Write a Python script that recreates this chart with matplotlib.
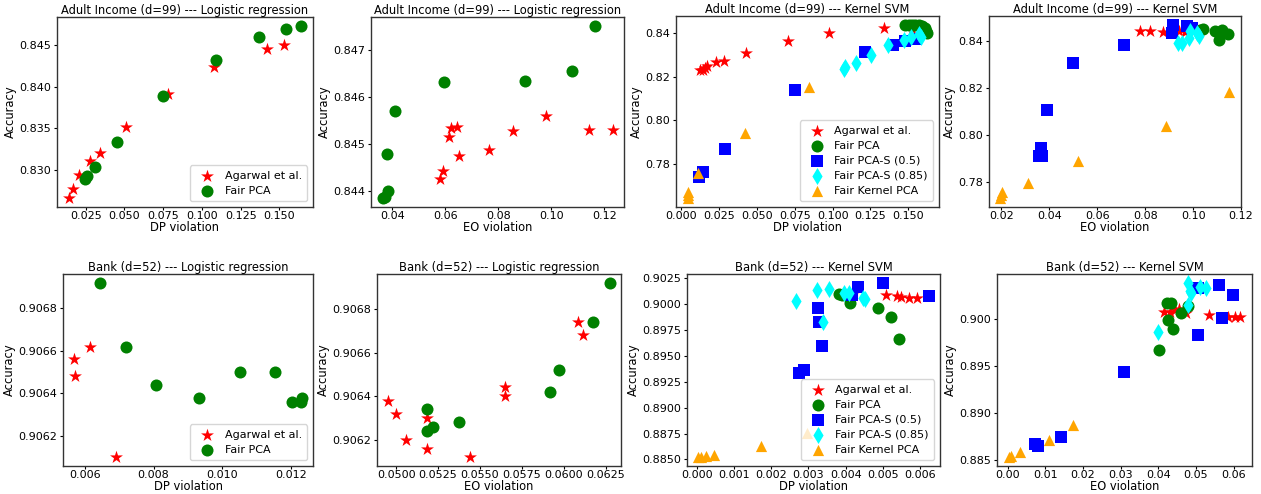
import matplotlib
matplotlib.use("Agg")
import matplotlib.pyplot as plt

plt.rcParams['font.family'] = ['DejaVu Sans']
plt.rcParams['axes.formatter.useoffset'] = False

W, H = 1261, 494

# ---------------- Adult Income, Logistic regression, DP ----------------
a_lr_dp_agarwal_x = [0.0140, 0.0168, 0.0205, 0.0278, 0.0341, 0.0513, 0.0784, 0.1075, 0.1422, 0.1530]
a_lr_dp_agarwal_y = [0.82663, 0.8277, 0.82948, 0.83111, 0.8321, 0.83512, 0.83909, 0.84234, 0.84452, 0.84504]
a_lr_dp_fpca_x = [0.0244, 0.0261, 0.0310, 0.0450, 0.0748, 0.1093, 0.1366, 0.1545, 0.1642]
a_lr_dp_fpca_y = [0.82897, 0.82929, 0.83044, 0.83333, 0.83885, 0.84321, 0.84591, 0.84694, 0.84730]

# ---------------- Adult Income, Logistic regression, EO ----------------
a_lr_eo_agarwal_x = [0.0580, 0.0591, 0.0614, 0.0620, 0.0644, 0.0653, 0.0765, 0.0856, 0.0980, 0.1141, 0.1231]
a_lr_eo_agarwal_y = [0.84425, 0.84442, 0.84515, 0.84534, 0.84537, 0.84474, 0.84488, 0.84527, 0.84560, 0.84529, 0.84529]
a_lr_eo_fpca_x = [0.0363, 0.0371, 0.0385, 0.0379, 0.0411, 0.0596, 0.0900, 0.1079, 0.1165]
a_lr_eo_fpca_y = [0.84384, 0.84387, 0.84400, 0.84478, 0.84570, 0.84631, 0.84634, 0.84655, 0.84752]

# ---------------- Adult Income, Kernel SVM, DP ----------------
a_svm_dp_agarwal_x = [0.0123, 0.0143, 0.0158, 0.0174, 0.0233, 0.0284, 0.0429, 0.0706, 0.0978, 0.1341, 0.1522]
a_svm_dp_agarwal_y = [0.8229, 0.8229, 0.82412, 0.82489, 0.82687, 0.82702, 0.83099, 0.83634, 0.83985, 0.84244, 0.84168]
a_svm_dp_fpca_x = [0.1475, 0.1502, 0.1524, 0.1546, 0.1568, 0.1590, 0.1607, 0.1618, 0.1623]
a_svm_dp_fpca_y = [0.84366, 0.84382, 0.84382, 0.84382, 0.84366, 0.84321, 0.84244, 0.84092, 0.83985]
a_svm_dp_s05_x = [0.0121, 0.0147, 0.0290, 0.0754, 0.1214, 0.1398, 0.1475, 0.1550]
a_svm_dp_s05_y = [0.77405, 0.77649, 0.78672, 0.81405, 0.83115, 0.83435, 0.83649, 0.83740]
a_svm_dp_s085_x = [0.1077, 0.1084, 0.1152, 0.1253, 0.1368, 0.1473, 0.1519, 0.1572, 0.1581]
a_svm_dp_s085_y = [0.82366, 0.82458, 0.82626, 0.83008, 0.83450, 0.83679, 0.83832, 0.83939, 0.83832]
a_svm_dp_fkpca_x = [0.0046, 0.0046, 0.0047, 0.0110, 0.0424, 0.0842]
a_svm_dp_fkpca_y = [0.76718, 0.76427, 0.76565, 0.77573, 0.79405, 0.81527]

# ---------------- Adult Income, Kernel SVM, EO ----------------
a_svm_eo_agarwal_x = [0.0779, 0.0822, 0.0874, 0.0916, 0.0942, 0.0965]
a_svm_eo_agarwal_y = [0.84426, 0.84426, 0.84383, 0.84426, 0.84426, 0.84398]
a_svm_eo_fpca_x = [0.1029, 0.1040, 0.1092, 0.1120, 0.1110, 0.1144]
a_svm_eo_fpca_y = [0.84496, 0.84525, 0.84454, 0.84468, 0.84071, 0.84326]
a_svm_eo_s05_x = [0.0355, 0.0369, 0.0366, 0.0391, 0.0499, 0.0713, 0.0912, 0.0916, 0.0975, 0.0996]
a_svm_eo_s05_y = [0.79106, 0.79106, 0.79433, 0.81092, 0.83078, 0.83858, 0.84355, 0.84709, 0.84667, 0.84553]
a_svm_eo_s085_x = [0.0935, 0.0954, 0.0984, 0.0987, 0.1017, 0.1023]
a_svm_eo_s085_y = [0.83943, 0.83943, 0.84142, 0.84426, 0.84355, 0.84241]
a_svm_eo_fkpca_x = [0.0196, 0.0200, 0.0203, 0.0312, 0.0520, 0.0885, 0.1151]
a_svm_eo_fkpca_y = [0.77305, 0.77433, 0.77574, 0.77957, 0.78894, 0.80383, 0.81844]

# ---------------- Bank, Logistic regression, DP ----------------
b_lr_dp_agarwal_x = [0.00569, 0.00571, 0.00614, 0.00690]
b_lr_dp_agarwal_y = [0.90656, 0.90648, 0.90662, 0.90610]
b_lr_dp_fpca_x = [0.00644, 0.00720, 0.00807, 0.00932, 0.01053, 0.01153, 0.01203, 0.01229, 0.01232]
b_lr_dp_fpca_y = [0.90692, 0.90662, 0.90644, 0.90638, 0.90650, 0.90650, 0.90636, 0.90636, 0.90638]

# ---------------- Bank, Logistic regression, EO ----------------
b_lr_eo_agarwal_x = [0.04952, 0.05000, 0.05058, 0.05187, 0.05187, 0.05443, 0.05652, 0.05652, 0.06085, 0.06113]
b_lr_eo_agarwal_y = [0.90638, 0.90632, 0.90620, 0.90630, 0.90616, 0.90612, 0.90644, 0.90640, 0.90674, 0.90668]
b_lr_eo_fpca_x = [0.05187, 0.05187, 0.05223, 0.05373, 0.05921, 0.05971, 0.06176, 0.06276]
b_lr_eo_fpca_y = [0.90634, 0.90624, 0.90626, 0.90628, 0.90642, 0.90652, 0.90674, 0.90692]

# ---------------- Bank, Kernel SVM, DP ----------------
b_svm_dp_agarwal_x = [0.00418, 0.00508, 0.00539, 0.00550, 0.00571, 0.00591]
b_svm_dp_agarwal_y = [0.90087, 0.90087, 0.90081, 0.90074, 0.90061, 0.90061]
b_svm_dp_fpca_x = [0.00382, 0.00391, 0.00413, 0.00487, 0.00523, 0.00543]
b_svm_dp_fpca_y = [0.90097, 0.90087, 0.90010, 0.89961, 0.89881, 0.89662]
b_svm_dp_s05_x = [0.00274, 0.00288, 0.00325, 0.00328, 0.00337, 0.00418, 0.00433, 0.00500, 0.00623]
b_svm_dp_s05_y = [0.89340, 0.89362, 0.89968, 0.89829, 0.89597, 0.90087, 0.90164, 0.90209, 0.90081]
b_svm_dp_s085_x = [0.00266, 0.00323, 0.00355, 0.00395, 0.00409, 0.00447, 0.00451, 0.00339]
b_svm_dp_s085_y = [0.90032, 0.90135, 0.90145, 0.90113, 0.90113, 0.90064, 0.90048, 0.89829]
b_svm_dp_fkpca_x = [0.00004, 0.00011, 0.00025, 0.00045, 0.00171, 0.00297]
b_svm_dp_fkpca_y = [0.88521, 0.88528, 0.88534, 0.88544, 0.88631, 0.88760]

# ---------------- Bank, Kernel SVM, EO ----------------
b_svm_eo_agarwal_x = [0.04148, 0.04307, 0.04440, 0.04545, 0.04740, 0.05349, 0.05843, 0.06046, 0.06178]
b_svm_eo_agarwal_y = [0.90082, 0.90082, 0.90103, 0.90106, 0.90064, 0.90046, 0.90028, 0.90028, 0.90028]
b_svm_eo_fpca_x = [0.04016, 0.04263, 0.04387, 0.04219, 0.04342, 0.04590, 0.04793]
b_svm_eo_fpca_y = [0.89674, 0.89993, 0.89894, 0.90177, 0.90170, 0.90064, 0.90142]
b_svm_eo_s05_x = [0.00724, 0.00794, 0.01430, 0.03098, 0.05040, 0.05049, 0.05622, 0.05702, 0.05993]
b_svm_eo_s05_y = [0.88670, 0.88656, 0.88745, 0.89440, 0.89837, 0.90330, 0.90362, 0.90018, 0.90262]
b_svm_eo_s085_x = [0.03981, 0.04793, 0.04784, 0.04837, 0.04872, 0.05093, 0.05252]
b_svm_eo_s085_y = [0.89862, 0.90156, 0.90390, 0.90305, 0.90277, 0.90348, 0.90330]
b_svm_eo_fkpca_x = [0.00026, 0.00088, 0.00327, 0.01086, 0.01748]
b_svm_eo_fkpca_y = [0.88532, 0.88546, 0.88589, 0.88716, 0.88876]

# ---------------- labels / ticks ----------------
series_names = ["Agarwal et al.", "Fair PCA", "Fair PCA-S (0.5)", "Fair PCA-S (0.85)", "Fair Kernel PCA"]
title_adult_lr = "Adult Income (d=99) --- Logistic regression"
title_adult_svm = "Adult Income (d=99) --- Kernel SVM"
title_bank_lr = "Bank (d=52) --- Logistic regression"
title_bank_svm = "Bank (d=52) --- Kernel SVM"

p1_xticks = [0.025, 0.050, 0.075, 0.100, 0.125, 0.150]
p1_yticks = [0.830, 0.835, 0.840, 0.845]
p2_xticks = [0.04, 0.06, 0.08, 0.10, 0.12]
p2_yticks = [0.844, 0.845, 0.846, 0.847]
p3_xticks = [0.000, 0.025, 0.050, 0.075, 0.100, 0.125, 0.150]
p3_yticks = [0.78, 0.80, 0.82, 0.84]
p4_xticks = [0.02, 0.04, 0.06, 0.08, 0.10, 0.12]
p4_yticks = [0.78, 0.80, 0.82, 0.84]
p5_xticks = [0.006, 0.008, 0.010, 0.012]
p5_yticks = [0.9062, 0.9064, 0.9066, 0.9068]
p6_xticks = [0.0500, 0.0525, 0.0550, 0.0575, 0.0600, 0.0625]
p6_yticks = [0.9062, 0.9064, 0.9066, 0.9068]
p7_xticks = [0.000, 0.001, 0.002, 0.003, 0.004, 0.005, 0.006]
p7_yticks = [0.8850, 0.8875, 0.8900, 0.8925, 0.8950, 0.8975, 0.9000, 0.9025]
p8_xticks = [0.00, 0.01, 0.02, 0.03, 0.04, 0.05, 0.06]
p8_yticks = [0.885, 0.890, 0.895, 0.900]

colors = ["red", "green", "blue", "cyan", "orange"]
markers = ["*", "o", "s", "d", "^"]
msize = [95, 75, 65, 75, 65]

TICK_FS = 8
LABEL_FS = 8.3
TITLE_FS = 8.3
LEG_FS = 8

fig = plt.figure(figsize=(W / 100, H / 100), dpi=100)


def make_ax(l, r, t, b):
    return fig.add_axes([l / W, 1 - b / H, (r - l) / W, (b - t) / H])


def draw(ax, series, title, xlabel, xticks, yticks, xfmt, yfmt, legend):
    for i, (xs, ys) in enumerate(series):
        ax.scatter(xs, ys, s=msize[i], c=colors[i], marker=markers[i],
                   label=series_names[i], linewidths=0)
    ax.set_xticks(xticks)
    ax.set_yticks(yticks)
    ax.set_xticklabels([xfmt.format(v) for v in xticks])
    ax.set_yticklabels([yfmt.format(v) for v in yticks])
    ax.tick_params(axis='x', labelsize=TICK_FS, length=2, pad=1)
    ax.tick_params(axis='y', labelsize=TICK_FS, length=2, pad=2)
    for sp in ax.spines.values():
        sp.set_linewidth(1.0)
        sp.set_color('#333333')
    ax.set_title(title, fontsize=TITLE_FS, pad=2)
    ax.set_xlabel(xlabel, fontsize=LABEL_FS, labelpad=0)
    ax.set_ylabel("Accuracy", fontsize=LABEL_FS, labelpad=2)
    if legend:
        ax.legend(loc="lower right", fontsize=LEG_FS, handletextpad=0.6,
                  borderpad=0.5, labelspacing=0.45)


ax1 = make_ax(57, 313, 17, 207)
draw(ax1, [(a_lr_dp_agarwal_x, a_lr_dp_agarwal_y), (a_lr_dp_fpca_x, a_lr_dp_fpca_y)],
     title_adult_lr, "DP violation", p1_xticks, p1_yticks, "{:.3f}", "{:.3f}", True)

ax2 = make_ax(371, 624, 17, 207)
draw(ax2, [(a_lr_eo_agarwal_x, a_lr_eo_agarwal_y), (a_lr_eo_fpca_x, a_lr_eo_fpca_y)],
     title_adult_lr, "EO violation", p2_xticks, p2_yticks, "{:.2f}", "{:.3f}", False)

ax3 = make_ax(676, 939, 16, 207)
draw(ax3, [(a_svm_dp_agarwal_x, a_svm_dp_agarwal_y), (a_svm_dp_fpca_x, a_svm_dp_fpca_y),
           (a_svm_dp_s05_x, a_svm_dp_s05_y), (a_svm_dp_s085_x, a_svm_dp_s085_y),
           (a_svm_dp_fkpca_x, a_svm_dp_fkpca_y)],
     title_adult_svm, "DP violation", p3_xticks, p3_yticks, "{:.3f}", "{:.2f}", True)

ax4 = make_ax(989, 1241, 16, 207)
draw(ax4, [(a_svm_eo_agarwal_x, a_svm_eo_agarwal_y), (a_svm_eo_fpca_x, a_svm_eo_fpca_y),
           (a_svm_eo_s05_x, a_svm_eo_s05_y), (a_svm_eo_s085_x, a_svm_eo_s085_y),
           (a_svm_eo_fkpca_x, a_svm_eo_fkpca_y)],
     title_adult_svm, "EO violation", p4_xticks, p4_yticks, "{:.2f}", "{:.2f}", False)

ax5 = make_ax(63, 313, 274, 466)
draw(ax5, [(b_lr_dp_agarwal_x, b_lr_dp_agarwal_y), (b_lr_dp_fpca_x, b_lr_dp_fpca_y)],
     title_bank_lr, "DP violation", p5_xticks, p5_yticks, "{:.3f}", "{:.4f}", True)

ax6 = make_ax(377, 621, 274, 466)
draw(ax6, [(b_lr_eo_agarwal_x, b_lr_eo_agarwal_y), (b_lr_eo_fpca_x, b_lr_eo_fpca_y)],
     title_bank_lr, "EO violation", p6_xticks, p6_yticks, "{:.4f}", "{:.4f}", False)

ax7 = make_ax(687, 940, 274, 466)
draw(ax7, [(b_svm_dp_agarwal_x, b_svm_dp_agarwal_y), (b_svm_dp_fpca_x, b_svm_dp_fpca_y),
           (b_svm_dp_s05_x, b_svm_dp_s05_y), (b_svm_dp_s085_x, b_svm_dp_s085_y),
           (b_svm_dp_fkpca_x, b_svm_dp_fkpca_y)],
     title_bank_svm, "DP violation", p7_xticks, p7_yticks, "{:.3f}", "{:.4f}", True)

ax8 = make_ax(997, 1252, 274, 466)
draw(ax8, [(b_svm_eo_agarwal_x, b_svm_eo_agarwal_y), (b_svm_eo_fpca_x, b_svm_eo_fpca_y),
           (b_svm_eo_s05_x, b_svm_eo_s05_y), (b_svm_eo_s085_x, b_svm_eo_s085_y),
           (b_svm_eo_fkpca_x, b_svm_eo_fkpca_y)],
     title_bank_svm, "EO violation", p8_xticks, p8_yticks, "{:.2f}", "{:.3f}", False)

fig.savefig("out.png", dpi=100)
